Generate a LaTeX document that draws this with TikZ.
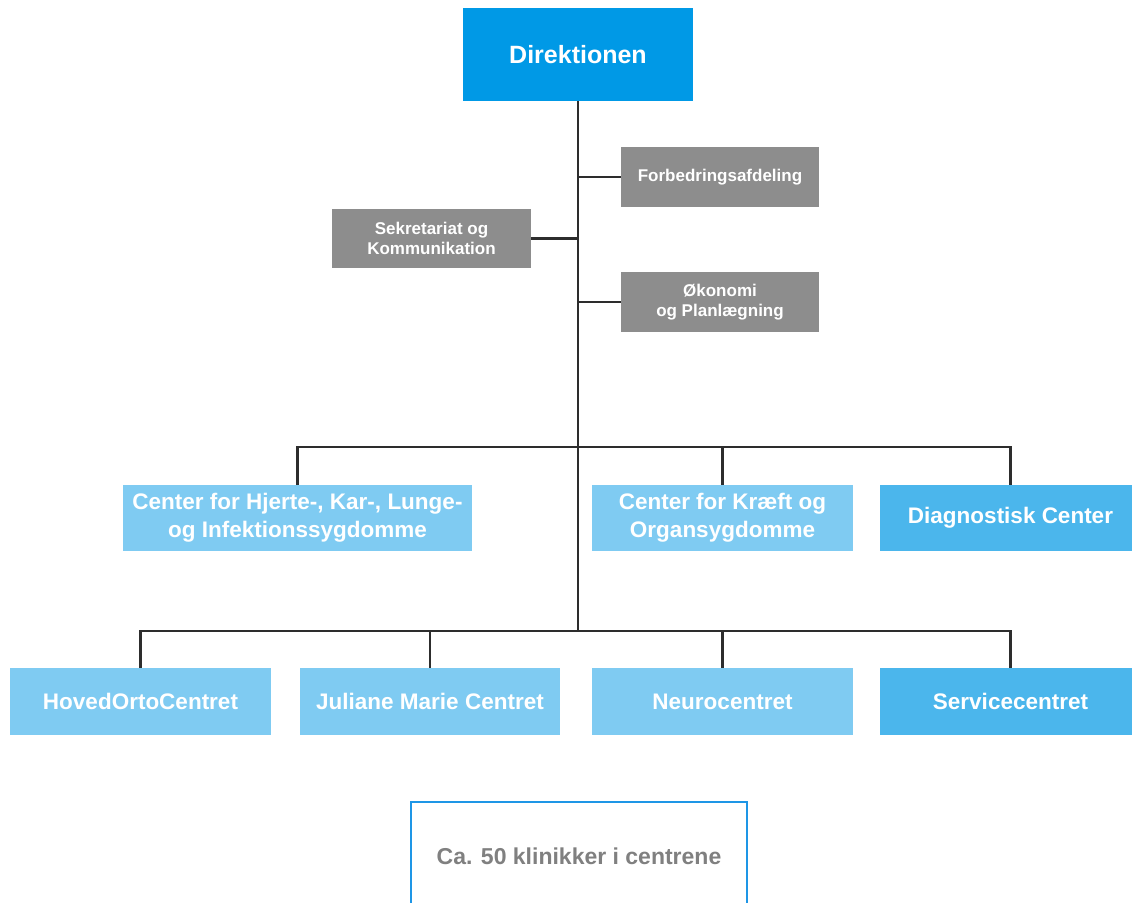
\documentclass[tikz,border=0pt]{standalone}
\usepackage{fontspec}
\setmainfont{Liberation Sans}
\usetikzlibrary{positioning, calc}
\definecolor{dirblue}{RGB}{0, 153, 230}
\definecolor{centerblue}{RGB}{127, 203, 242}
\definecolor{deepblue}{RGB}{75, 182, 236}
\definecolor{staffgray}{RGB}{141, 141, 141}
\definecolor{linegray}{RGB}{45, 45, 45}
\definecolor{textgray}{RGB}{128, 128, 128}
\definecolor{frameblue}{RGB}{30, 150, 230}

\begin{document}
\begin{tikzpicture}[x=1pt, y=-1pt,
  box/.style={inner sep=0pt, align=center, text=white, font=\bfseries\fontsize{22.5}{28}\selectfont},
  centerbox/.style={box, fill=centerblue, minimum width=261pt, minimum height=66pt},
  staffbox/.style={box, fill=staffgray, minimum width=198pt, minimum height=60pt, font=\bfseries\fontsize{17}{19.5}\selectfont},
  conn/.style={draw=linegray, line width=2.3pt}
]
  \useasboundingbox (0, 0) rectangle (1132, 902);
  \clip (0, 0) rectangle (1132, 902);
  \fill[white] (0, 0) rectangle (1132, 902);

  % Direktionen
  \node[box, fill=dirblue, minimum width=230pt, minimum height=93pt, font=\bfseries\fontsize{25}{30}\selectfont] (dir) at (578, 54.5) {Direktionen};

  % Stabsfunktioner
  \node[staffbox] (forb) at (720, 177) {Forbedringsafdeling};
  \node[staffbox, minimum width=199pt, minimum height=59pt] (sekr) at (431.5, 238.5) {Sekretariat og\\Kommunikation};
  \node[staffbox] (okon) at (720, 302) {Økonomi\\og Planlægning};

  % Centre, første række
  \node[centerbox, minimum width=349pt] (hjerte) at (297.5, 518) {Center for Hjerte-, Kar-, Lunge-\\og Infektionssygdomme};
  \node[centerbox] (kraeft) at (722.5, 518) {Center for Kræft og\\Organsygdomme};
  \node[centerbox, fill=deepblue] (diag) at (1010.5, 518) {Diagnostisk Center};

  % Centre, anden række
  \node[centerbox, minimum height=67pt] (hoved) at (140.5, 701.5) {HovedOrtoCentret};
  \node[centerbox, minimum width=260pt, minimum height=67pt] (juliane) at (430, 701.5) {Juliane Marie Centret};
  \node[centerbox, minimum height=67pt] (neuro) at (722.5, 701.5) {Neurocentret};
  \node[centerbox, fill=deepblue, minimum height=67pt] (service) at (1010.5, 701.5) {Servicecentret};

  % Klinikker
  \node[draw=frameblue, line width=2pt, fill=white, minimum width=336pt, minimum height=108pt, text=textgray, font=\bfseries\fontsize{23}{28}\selectfont] (klinik) at (579, 856) {Ca. 50 klinikker i centrene};

  % Forbindelser
  \coordinate (bar1) at (578, 447);
  \coordinate (bar2) at (578, 631);
  \draw[conn] (dir.south) -- (bar2);
  \draw[conn] (forb.west) -- (forb.west -| dir.south);
  \draw[conn] (sekr.east) -- (sekr.east -| dir.south);
  \draw[conn] (okon.west) -- (okon.west -| dir.south);
  \draw[conn] (hjerte.north) |- (bar1) -| (diag.north);
  \draw[conn] (kraeft.north) -- (kraeft.north |- bar1);
  \draw[conn] (hoved.north) |- (bar2) -| (service.north);
  \draw[conn] (juliane.north) -- (juliane.north |- bar2);
  \draw[conn] (neuro.north) -- (neuro.north |- bar2);
\end{tikzpicture}
\end{document}
